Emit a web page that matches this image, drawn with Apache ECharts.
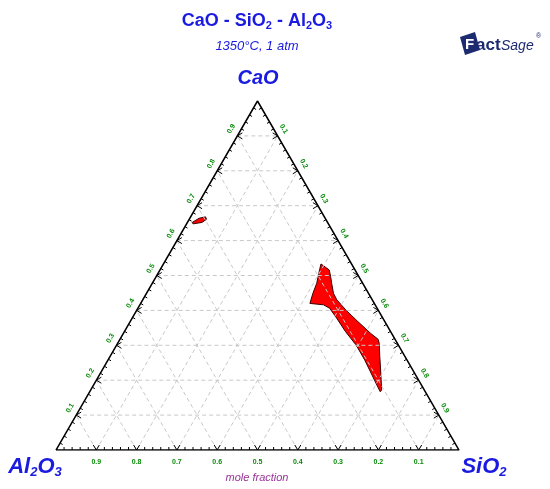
<!DOCTYPE html>
<html><head><meta charset="utf-8">
<script src="https://cdn.jsdelivr.net/npm/echarts@6/dist/echarts.min.js"></script>
<style>html,body{margin:0;padding:0;background:#fff}#c{width:550px;height:489px}</style>
</head><body><div id="c"></div>
<script>
// ---- data ----
const tickValues = [0.1, 0.2, 0.3, 0.4, 0.5, 0.6, 0.7, 0.8, 0.9];
const leftTickLabels = ['0.1','0.2','0.3','0.4','0.5','0.6','0.7','0.8','0.9'];   // CaO on Al2O3-CaO edge
const rightTickLabels = ['0.1','0.2','0.3','0.4','0.5','0.6','0.7','0.8','0.9'];  // SiO2 on CaO-SiO2 edge
const bottomTickLabels = ['0.1','0.2','0.3','0.4','0.5','0.6','0.7','0.8','0.9']; // Al2O3 on SiO2-Al2O3 edge
const minorStep = 0.02;
// liquid regions, [CaO, SiO2] mole fractions
const liquidMain = [
  [0.533,0.391],[0.516,0.420],[0.497,0.433],[0.478,0.445],[0.449,0.464],[0.430,0.482],
  [0.401,0.519],[0.368,0.565],[0.334,0.614],[0.317,0.641],[0.306,0.649],[0.267,0.670],
  [0.220,0.696],[0.172,0.722],[0.167,0.721],
  [0.196,0.694],[0.258,0.637],[0.301,0.594],[0.339,0.549],[0.382,0.503],[0.406,0.476],
  [0.416,0.456],[0.420,0.420],[0.449,0.413],[0.478,0.408],[0.516,0.396]
];
const liquidSmall = [
  [0.652,0.012],[0.664,0.023],[0.668,0.037],[0.661,0.043],[0.652,0.036],[0.648,0.016]
];

const S = Math.sqrt(3) / 2;
function toXY(ca, si) { return [si + ca / 2, ca * S]; }

// grid lines (three families)
const gridLines = [];
tickValues.forEach(v => {
  gridLines.push([...toXY(v, 0), ...toXY(v, 1 - v)]);          // const CaO
  gridLines.push([...toXY(0, v), ...toXY(1 - v, v)]);          // const SiO2
  gridLines.push([...toXY(0, 1 - v), ...toXY(1 - v, 0)]);      // const Al2O3
});

// ticks: [edge, value, major]
const tickData = [];
for (let i = 1; i < 50; i++) {
  const v = Math.round(i * minorStep * 100) / 100;
  const major = (i % 5 === 0) ? 1 : 0;
  for (let e = 0; e < 3; e++) tickData.push([e, v, major]);
}
function edgePoint(e, v) {
  if (e === 0) return toXY(v, 0);
  if (e === 1) return toXY(1 - v, v);
  return toXY(0, 1 - v);
}
const labelData = [];
tickValues.forEach((v, i) => {
  labelData.push([0, v, leftTickLabels[i]]);
  labelData.push([1, v, rightTickLabels[i]]);
  labelData.push([2, v, bottomTickLabels[i]]);
});

const chart = echarts.init(document.getElementById('c'), null, {renderer: 'canvas'});
const FONT = '"Liberation Sans", Arial, sans-serif';
const BLUE = '#1a1ae0';
const NAVY = '#1c2a70';

function polygonSeries(pts, name) {
  return {
    type: 'custom', name, z: 3,
    data: pts.map(p => toXY(p[0], p[1])),
    encode: {x: 0, y: 1},
    renderItem: (params, api) => {
      if (params.dataIndex !== 0) return;
      const points = pts.map(p => api.coord(toXY(p[0], p[1])));
      return {type: 'polygon', shape: {points}, style: {fill: '#ff0000', stroke: '#3a0000', lineWidth: 1}};
    }
  };
}

chart.setOption({
  animation: false,
  grid: {left: 56, right: 91, top: 101, bottom: 39},
  xAxis: {type: 'value', min: 0, max: 1, show: false},
  yAxis: {type: 'value', min: 0, max: S, show: false},
  series: [
    polygonSeries(liquidMain, 'main'),
    polygonSeries(liquidSmall, 'small'),
    {
      type: 'custom', z: 4, data: gridLines, encode: {x: [0, 2], y: [1, 3]},
      renderItem: (params, api) => {
        const a = api.coord([api.value(0), api.value(1)]);
        const b = api.coord([api.value(2), api.value(3)]);
        return {type: 'line', shape: {x1: a[0], y1: a[1], x2: b[0], y2: b[1]},
          style: {stroke: '#c8c8c8', lineWidth: 1, lineDash: [4, 3]}};
      }
    },
    {
      type: 'line', z: 5, symbol: 'none',
      data: [[0, 0], [1, 0], [0.5, S], [0, 0]],
      lineStyle: {color: '#000', width: 1.5}
    },
    {
      type: 'custom', z: 6, data: tickData,
      renderItem: (params, api) => {
        const e = api.value(0), v = api.value(1), major = api.value(2);
        const p = api.coord(edgePoint(e, v));
        const x = p[0], y = p[1];
        const st = {stroke: '#000', lineWidth: 1, fill: null};
        if (major) {
          let pts;
          if (e === 0) pts = [[x + 5, y - 3], [x, y], [x + 5, y + 3]];
          else if (e === 1) pts = [[x - 5, y - 3], [x, y], [x - 5, y + 3]];
          else pts = [[x - 3, y - 5], [x, y], [x + 3, y - 5]];
          return {type: 'polyline', shape: {points: pts}, style: st};
        }
        let n;
        if (e === 0) n = [0.866, 0.5];
        else if (e === 1) n = [-0.866, 0.5];
        else n = [0, -1];
        return {type: 'line', shape: {x1: x, y1: y, x2: x + n[0] * 3, y2: y + n[1] * 3}, style: st};
      }
    },
    {
      type: 'custom', z: 7, data: labelData,
      renderItem: (params, api) => {
        const e = api.value(0), v = api.value(1);
        const txt = labelData[params.dataIndex][2];
        const p = api.coord(edgePoint(e, v));
        let x = p[0], y = p[1], rot = 0;
        if (e === 0) { x -= 6; y -= 7; rot = Math.PI / 3; }
        else if (e === 1) { x += 6; y -= 7; rot = -Math.PI / 3; }
        else { y += 12; }
        return {type: 'text', x, y, rotation: rot,
          style: {text: txt, fill: '#0a8a0a', font: 'bold 7px ' + FONT, align: 'center', verticalAlign: 'middle'}};
      }
    }
  ],
  graphic: [
    {type: 'text', x: 257, y: 21, style: {
      text: '{a|CaO - SiO}{s|2}{a| - Al}{s|2}{a|O}{s|3}', align: 'center', verticalAlign: 'middle',
      rich: {a: {font: 'bold 18px ' + FONT, fill: BLUE, lineHeight: 20},
             s: {font: 'bold 11px ' + FONT, fill: BLUE, lineHeight: 10, verticalAlign: 'bottom'}}}},
    {type: 'text', x: 257, y: 46, style: {text: '1350°C, 1 atm', align: 'center', verticalAlign: 'middle',
      font: 'italic 13px ' + FONT, fill: BLUE}},
    {type: 'text', x: 258, y: 78, style: {text: 'CaO', align: 'center', verticalAlign: 'middle',
      font: 'italic bold 20px ' + FONT, fill: BLUE}},
    {type: 'text', x: 35, y: 467, style: {
      text: '{a|Al}{s|2}{a|O}{s|3}', align: 'center', verticalAlign: 'middle',
      rich: {a: {font: 'italic bold 22px ' + FONT, fill: BLUE, lineHeight: 24},
             s: {font: 'italic bold 13px ' + FONT, fill: BLUE, lineHeight: 12, verticalAlign: 'bottom'}}}},
    {type: 'text', x: 484, y: 467, style: {
      text: '{a|SiO}{s|2}', align: 'center', verticalAlign: 'middle',
      rich: {a: {font: 'italic bold 22px ' + FONT, fill: BLUE, lineHeight: 24},
             s: {font: 'italic bold 13px ' + FONT, fill: BLUE, lineHeight: 12, verticalAlign: 'bottom'}}}},
    {type: 'text', x: 257, y: 478, style: {text: 'mole fraction', align: 'center', verticalAlign: 'middle',
      font: 'italic 11px ' + FONT, fill: '#993399'}},
    // FactSage logo
    {type: 'polygon', shape: {points: [[460, 37], [475, 32], [480, 50], [465, 55]]}, style: {fill: NAVY}},
    {type: 'text', x: 465, y: 45, style: {text: 'F', font: 'bold 15px ' + FONT, fill: '#fff', verticalAlign: 'middle'}},
    {type: 'text', x: 476, y: 45, style: {text: 'act', font: 'bold 17px ' + FONT, fill: NAVY, verticalAlign: 'middle'}},
    {type: 'text', x: 501, y: 46, style: {text: 'Sage', font: 'italic 14px ' + FONT, fill: NAVY, verticalAlign: 'middle'}},
    {type: 'text', x: 536, y: 36, style: {text: '®', font: '7px ' + FONT, fill: NAVY, verticalAlign: 'middle'}}
  ]
});
</script></body></html>
